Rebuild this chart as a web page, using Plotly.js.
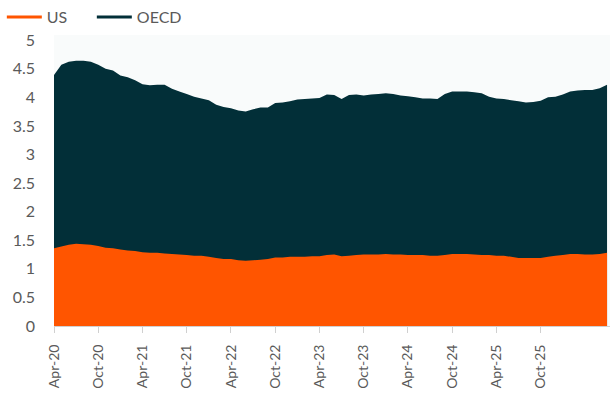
<!DOCTYPE html>
<html>
<head>
<meta charset="utf-8">
<script src="https://cdn.plot.ly/plotly-3.0.1.min.js"></script>
<style>html,body{margin:0;padding:0;background:#fff;}#chart{width:610px;height:400px;}</style>
</head>
<body>
<div id="chart"></div>
<script>
// Monthly observations starting Apr-20 (index 0)
const oecd = [4.39,4.57,4.62,4.64,4.64,4.62,4.57,4.50,4.47,4.38,4.35,4.30,4.23,4.21,4.22,4.22,
  4.15,4.10,4.06,4.01,3.98,3.95,3.87,3.83,3.81,3.77,3.75,3.79,3.82,3.82,3.90,3.91,3.93,3.96,3.97,3.98,
  3.99,4.05,4.04,3.97,4.04,4.05,4.03,4.05,4.06,4.07,4.06,4.03,4.02,4.00,3.98,3.98,3.97,4.06,4.10,4.10,
  4.10,4.09,4.07,4.01,3.98,3.97,3.95,3.93,3.91,3.92,3.94,4.00,4.01,4.05,4.10,4.12,4.13,4.13,4.16,4.22];
const us = [1.36,1.39,1.42,1.44,1.43,1.42,1.40,1.37,1.36,1.34,1.32,1.31,1.29,1.28,1.28,1.27,
  1.26,1.25,1.24,1.23,1.23,1.21,1.19,1.17,1.17,1.15,1.14,1.15,1.16,1.17,1.20,1.20,1.21,1.21,1.21,1.22,
  1.22,1.24,1.25,1.22,1.23,1.24,1.25,1.25,1.25,1.26,1.25,1.25,1.24,1.24,1.24,1.23,1.23,1.24,1.26,1.26,
  1.26,1.25,1.24,1.24,1.23,1.23,1.21,1.19,1.19,1.19,1.19,1.21,1.23,1.24,1.26,1.26,1.25,1.25,1.26,1.28];
const tickLabels = ["Apr-20","Oct-20","Apr-21","Oct-21","Apr-22","Oct-22","Apr-23","Oct-23","Apr-24","Oct-24","Apr-25","Oct-25"];
const tickPositions = [0,6,12,18,24,30,36,42,48,54,60,66];
const xIdx = oecd.map((_, i) => i);

const ORANGE = '#FF5500', TEAL = '#022F38';
const font = {family: 'Lato, "Noto Sans", sans-serif', size: 16, color: '#5a5a5a'};

const traces = [
  {x: xIdx, y: oecd, type: 'scatter', mode: 'none', fill: 'tozeroy', fillcolor: TEAL, showlegend: false, hoverinfo: 'skip'},
  {x: xIdx, y: us, type: 'scatter', mode: 'none', fill: 'tozeroy', fillcolor: ORANGE, showlegend: false, hoverinfo: 'skip'},
  {x: [null], y: [null], type: 'scatter', mode: 'lines', name: 'US', line: {color: ORANGE, width: 3}},
  {x: [null], y: [null], type: 'scatter', mode: 'lines', name: 'OECD', line: {color: TEAL, width: 3}}
];

const layout = {
  width: 610, height: 400,
  margin: {l: 54, r: 0, t: 35, b: 74},
  paper_bgcolor: '#ffffff',
  plot_bgcolor: '#f9fbfb',
  font: font,
  showlegend: true,
  legend: {orientation: 'h', xref: 'container', yref: 'container', x: 0.003, y: 1, xanchor: 'left', yanchor: 'top',
           font: font, itemwidth: 35, entrywidth: 40, traceorder: 'normal', bgcolor: 'rgba(0,0,0,0)'},
  xaxis: {
    range: [0, 75.4], showgrid: false, zeroline: false,
    showline: true, linecolor: '#d0d0d0', linewidth: 1,
    ticks: 'outside', ticklen: 6, tickcolor: '#d0d0d0',
    tickvals: tickPositions, ticktext: tickLabels, tickangle: -90,
    ticklabelstandoff: 6,
    tickfont: {family: font.family, size: 14, color: '#5a5a5a'}
  },
  yaxis: {
    range: [0, 5.09], showgrid: false, zeroline: false, showline: false,
    tickvals: [0,0.5,1,1.5,2,2.5,3,3.5,4,4.5,5],
    ticktext: ['0','0.5','1','1.5','2','2.5','3','3.5','4','4.5','5'],
    ticklabelstandoff: 18,
    tickfont: {family: font.family, size: 16, color: '#5a5a5a'}
  }
};

Plotly.newPlot('chart', traces, layout, {displayModeBar: false, staticPlot: true});
</script>
</body>
</html>
